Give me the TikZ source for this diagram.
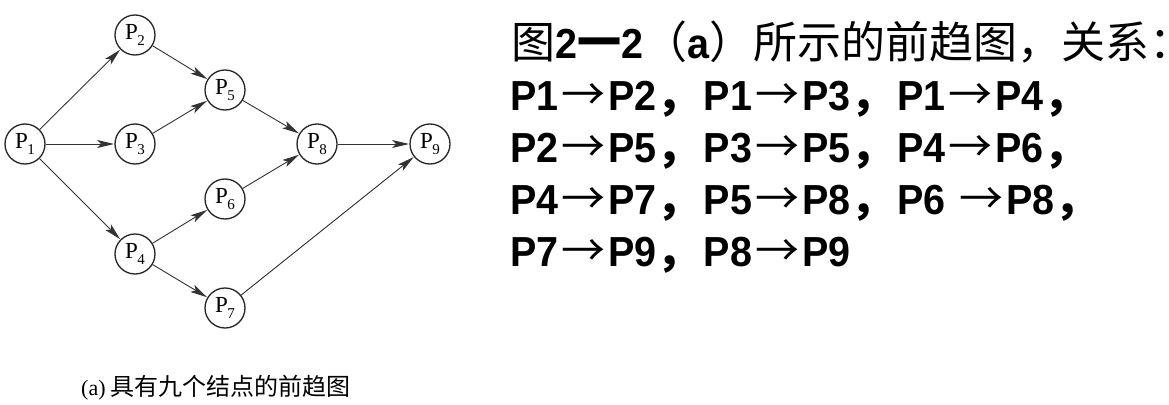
\documentclass[tikz,border=0pt]{standalone}
\usepackage{fontspec}
\setmainfont{Liberation Sans}[FakeStretch=0.94]
\newfontfamily\cjk{Noto Sans CJK SC}
\newfontfamily\cjkh{Noto Sans CJK SC}[RawFeature=+halt]
\newfontfamily\serifx{Liberation Serif}
\usetikzlibrary{arrows.meta}
\newcommand{\pl}[1]{P\kern-0.5pt\raisebox{-5.5pt}{\fontsize{15}{15}\selectfont #1}}
\newcommand{\ar}{\makebox[50pt][c]{\cjk\mdseries\fontsize{44}{44}\selectfont →}}
\newcommand{\cm}{\makebox[47pt][l]{\cjk\bfseries\fontsize{44}{44}\selectfont ，}}
\newcommand{\cj}[1]{{\cjk\mdseries\fontsize{44}{44}\selectfont #1}}
\begin{document}
\begin{tikzpicture}[x=1pt,y=-1pt,
  pnode/.style={circle,draw=black!85,line width=1.3pt,minimum size=40pt,inner sep=0pt,
    font=\serifx\fontsize{23}{23}\selectfont},
  edge/.style={draw=black!80,line width=0.9pt,-{Stealth[length=17pt,width=8pt,inset=4pt]},shorten >=0.3pt},
  txt/.style={anchor=base west,inner sep=0pt,font=\fontsize{42}{42}\selectfont\bfseries}]
\useasboundingbox (0,0) rectangle (1169,404);
\node[pnode] (p1) at (25,144) {\pl1};
\node[pnode] (p2) at (135,35) {\pl2};
\node[pnode] (p3) at (135,144) {\pl3};
\node[pnode] (p4) at (135,254) {\pl4};
\node[pnode] (p5) at (225,90) {\pl5};
\node[pnode] (p6) at (225,199) {\pl6};
\node[pnode] (p7) at (225,308) {\pl7};
\node[pnode] (p8) at (317,144) {\pl8};
\node[pnode] (p9) at (430,144) {\pl9};
\draw[edge] (p1) -- (p2);
\draw[edge] (p1) -- (p3);
\draw[edge] (p1) -- (p4);
\draw[edge] (p2) -- (p5);
\draw[edge] (p3) -- (p5);
\draw[edge] (p4) -- (p6);
\draw[edge] (p4) -- (p7);
\draw[edge] (p5) -- (p8);
\draw[edge] (p6) -- (p8);
\draw[edge] (p7) -- (p9);
\draw[edge] (p8) -- (p9);
\node[anchor=base west,inner sep=0pt] (cap) at (81,395)
  {\serifx\fontsize{22}{22}\selectfont (a)\hspace{5pt}\cjk\fontsize{24}{24}\selectfont 具有九个结点的前趋图};
\node[txt] (t1) at (511,59) {\cj{图}2{\cjk\bfseries\fontsize{44}{44}\selectfont 一}2\cj{（}a\cj{）所示的前趋图，关系}{\cjkh\mdseries\fontsize{44}{44}\selectfont ：}};
\node[txt] (t2) at (510,110) {P1\ar P2\cm P1\ar P3\cm P1\ar P4\cm};
\node[txt] (t3) at (510,162) {P2\ar P5\cm P3\ar P5\cm P4\ar P6\cm};
\node[txt] (t4) at (510,214) {P4\ar P7\cm P5\ar P8\cm P6 \ar P8\cm};
\node[txt] (t5) at (510,266) {P7\ar P9\cm P8\ar P9};
\end{tikzpicture}
\end{document}
